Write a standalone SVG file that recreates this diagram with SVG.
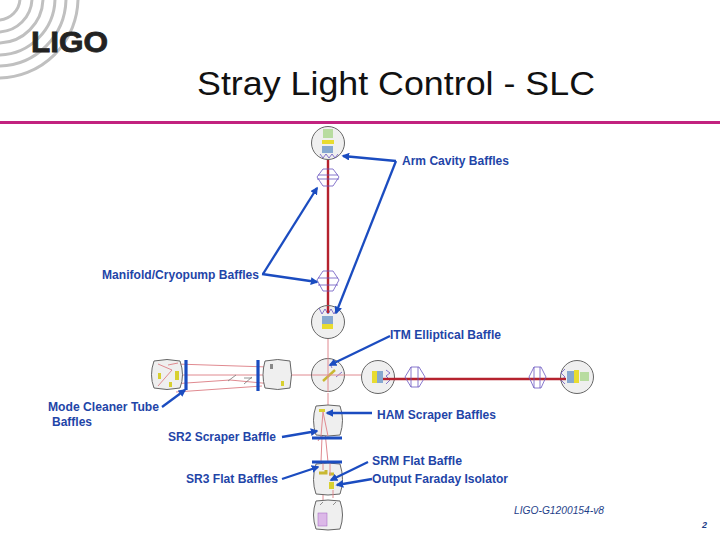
<svg xmlns="http://www.w3.org/2000/svg" width="720" height="540" viewBox="0 0 720 540">
<defs>
<marker id="ah" viewBox="0 0 10 10" refX="8" refY="5" markerWidth="3.4" markerHeight="3.4" orient="auto"><path d="M0,0 L10,5 L0,10 Z" fill="#1b4cc0"/></marker>
</defs>
<style>
.lbl{font-family:"Liberation Sans",Arial,sans-serif;font-size:12px;font-weight:700;fill:#1f45a8}
.tank{fill:#efefef;stroke:#666;stroke-width:1}
.b{fill:none;stroke:#6a55c0;stroke-width:.8}
.beam{fill:none;stroke:#b5222e;stroke-width:2.4}
.thin{fill:none;stroke:#e08a90;stroke-width:1}
.ar{fill:none;stroke:#1b4cc0;stroke-width:2.3;marker-end:url(#ah)}
.bar{stroke:#1b4cc0;stroke-width:3.2}
</style>
<rect width="720" height="540" fill="#fff"/>
<g id="logo">
<g fill="none" stroke="#c0c0c0" stroke-width="3">
<circle cx="-2" cy="-2" r="22"/><circle cx="-2" cy="-2" r="34"/><circle cx="-2" cy="-2" r="45"/><circle cx="-2" cy="-2" r="57"/><circle cx="-2" cy="-2" r="68"/><circle cx="-2" cy="-2" r="80"/>
</g>
<text x="31" y="52" font-family="'Liberation Sans',Arial,sans-serif" font-weight="700" font-size="29" fill="#222" textLength="77" lengthAdjust="spacingAndGlyphs" stroke="#222" stroke-width=".8">LIGO</text>
</g>
<g id="title">
<text x="197" y="95" font-family="'Liberation Sans',Arial,sans-serif" font-size="34" fill="#111" textLength="398" lengthAdjust="spacingAndGlyphs">Stray Light Control - SLC</text>
<rect x="0" y="121" width="720" height="3" fill="#c2227f"/>
</g>
<g id="beams">
<path class="beam" d="M328 155V325"/>
<path class="thin" d="M328 325V360M328 393V405M182 375H361M323 465V500"/>
<path class="beam" d="M383 379H566"/>
<path class="thin" d="M176 364L268 367M172 384L230 380 283 385M176 392L262 386"/>
<path class="thin" d="M323 412L321 462M323 412L328 462M327 427L318 441"/>
</g>
<g id="etm-y"><circle class="tank" cx="328" cy="143" r="16.5"/><rect x="323" y="129" width="10" height="9" fill="#b8dca0"/><rect x="322" y="140" width="12" height="4" fill="#e8dc30"/><rect x="322" y="146" width="11" height="7" fill="#86a8d0"/><path class="b" d="M320 154L323 158 326 154 329 158 332 154 335 158 338 154"/></g>
<g id="manifold-top"><path class="b" d="M323 169H333L339 177 333 186H323L317 177Z"/><path class="b" d="M318 175H338M317 179H339"/></g>
<g id="manifold-bot"><path class="b" d="M323 271H333L339 280 333 291H323L317 280Z"/><path class="b" d="M318 278H338M318 285H338"/></g>
<g id="itm-y"><circle class="tank" cx="328" cy="322" r="16.5"/><rect x="322" y="316" width="11" height="8" fill="#86a8d0"/><rect x="322" y="324" width="11" height="5" fill="#e8dc30"/><path class="b" d="M319 308L322 314 325 309 328 314 331 309 334 314 337 308"/><path class="beam" d="M328 306V313"/></g>
<g id="bs"><circle class="tank" cx="328" cy="375" r="16.5"/><path d="M323 381L335 370" stroke="#c8b830" stroke-width="2.4" fill="none"/><path class="b" d="M336 377L342 372M330 364L332 368"/><path class="thin" d="M312 375H345M328 358V392"/></g>
<g id="itm-x"><circle class="tank" cx="378" cy="377" r="16.5"/><rect x="372" y="371" width="5" height="12" fill="#e8dc30"/><rect x="377" y="371" width="6" height="12" fill="#86a8d0"/><path class="b" d="M386 370L390 373 386 376 390 380 386 384"/><path class="beam" d="M383 379H395"/></g>
<g id="manifold-xl"><path class="b" d="M411 367H419L425 377 419 387H411L405 377Z"/><path class="b" d="M411 367V387M418 367V387"/></g>
<g id="manifold-xr"><path class="b" d="M534 367H541L546 377 541 388H534L529 377Z"/><path class="b" d="M534 367V388M540 367V388"/></g>
<g id="etm-x"><circle class="tank" cx="577" cy="377" r="16.5"/><rect x="567" y="371" width="7" height="12" fill="#86a8d0"/><rect x="574" y="370" width="5" height="13" fill="#e8dc30"/><rect x="580" y="372" width="9" height="9" fill="#b8dca0"/><path class="b" d="M565 369L561 373 565 377 561 380 565 384"/><path class="beam" d="M560 379H566"/></g>
<g id="mc-left"><path class="tank" d="M154 361Q167 358 180 361Q185 375 180 388Q167 391 154 388Q149 375 154 361Z"/><rect x="175" y="371" width="4" height="9" fill="#d8d030"/><rect x="169" y="382" width="3" height="5" fill="#d8d030"/><rect x="158" y="373" width="3" height="6" fill="#d8d030"/><path class="thin" d="M158 364L172 370M158 386L172 370M168 365L178 363"/></g>
<g id="mc-right"><path class="tank" d="M265 361Q278 358 290 361Q293 375 290 388Q278 391 265 388Q261 375 265 361Z"/><rect x="270" y="364" width="3" height="5" fill="#888"/><rect x="281" y="381" width="3" height="5" fill="#d8d030"/></g>
<g id="mc-mid"><path d="M228 381L236 375M244 384L252 377M244 378H252" stroke="#777" stroke-width=".8" fill="none"/></g>
<g id="ham-upper"><path class="tank" d="M316 406Q328 404 340 406Q345 420 340 435Q328 437 316 435Q311 420 316 406Z"/><rect x="319" y="409" width="6" height="3" fill="#d8d030"/><path class="thin" d="M323 412L321 436M323 412L328 436"/></g>
<g id="ham-lower"><path class="tank" d="M316 464Q328 462 340 464Q345 480 340 494Q328 496 316 494Q311 480 316 464Z"/><path d="M319 473H326V470M329 474H334" stroke="#c8b830" stroke-width="3" fill="none"/><rect x="329" y="482" width="5" height="7" fill="#d8d030"/><path class="thin" d="M323 462V470M330 462V476M333 490V498"/></g>
<g id="ham-bottom"><path class="tank" d="M316 501Q328 499 340 501Q345 515 340 529Q328 531 316 529Q311 515 316 501Z"/><rect x="318" y="513" width="9" height="13" fill="#dcb8e8" stroke="#a060c0" stroke-width=".5"/><path d="M320 505L323 502M333 505L336 502" stroke="#777" stroke-width=".8"/></g>
<g id="connectors">
<path class="bar" d="M186 360V390M258 360V391M312 438H342M312 462H342"/>
<path class="ar" d="M396 161L343 156"/>
<path class="ar" d="M396 161L336 313"/>
<path class="ar" d="M263 274L317 188"/>
<path class="ar" d="M262 274L317 282"/>
<path class="ar" d="M390 336L330 365"/>
<path class="ar" d="M162 407L185 390"/>
<path class="ar" d="M372 413L327 413"/>
<path class="ar" d="M282 437L317 431"/>
<path class="ar" d="M282 479L318 467"/>
<path class="ar" d="M368 462L331 480"/>
<path class="ar" d="M372 479L337 485"/>
</g>
<g id="labels">
<text class="lbl" x="402" y="165" textLength="107" lengthAdjust="spacingAndGlyphs">Arm Cavity Baffles</text>
<text class="lbl" x="102" y="279" textLength="157" lengthAdjust="spacingAndGlyphs">Manifold/Cryopump Baffles</text>
<text class="lbl" x="390" y="339" textLength="111" lengthAdjust="spacingAndGlyphs">ITM Elliptical Baffle</text>
<text class="lbl" x="48" y="411" textLength="111" lengthAdjust="spacingAndGlyphs">Mode Cleaner Tube</text>
<text class="lbl" x="52" y="426" textLength="40" lengthAdjust="spacingAndGlyphs">Baffles</text>
<text class="lbl" x="377" y="419" textLength="119" lengthAdjust="spacingAndGlyphs">HAM Scraper Baffles</text>
<text class="lbl" x="168" y="441" textLength="108" lengthAdjust="spacingAndGlyphs">SR2 Scraper Baffle</text>
<text class="lbl" x="372" y="465" textLength="90" lengthAdjust="spacingAndGlyphs">SRM Flat Baffle</text>
<text class="lbl" x="186" y="483" textLength="92" lengthAdjust="spacingAndGlyphs">SR3 Flat Baffles</text>
<text class="lbl" x="372" y="483" textLength="136" lengthAdjust="spacingAndGlyphs">Output Faraday Isolator</text>
<text x="514" y="514" font-family="'Liberation Sans',Arial,sans-serif" font-size="10" font-style="italic" fill="#1f3f8a" textLength="90" lengthAdjust="spacingAndGlyphs">LIGO-G1200154-v8</text>
<text x="702" y="528" font-family="'Liberation Sans',Arial,sans-serif" font-size="9" font-style="italic" font-weight="700" fill="#1f3f8a">2</text>
</g>
</svg>
